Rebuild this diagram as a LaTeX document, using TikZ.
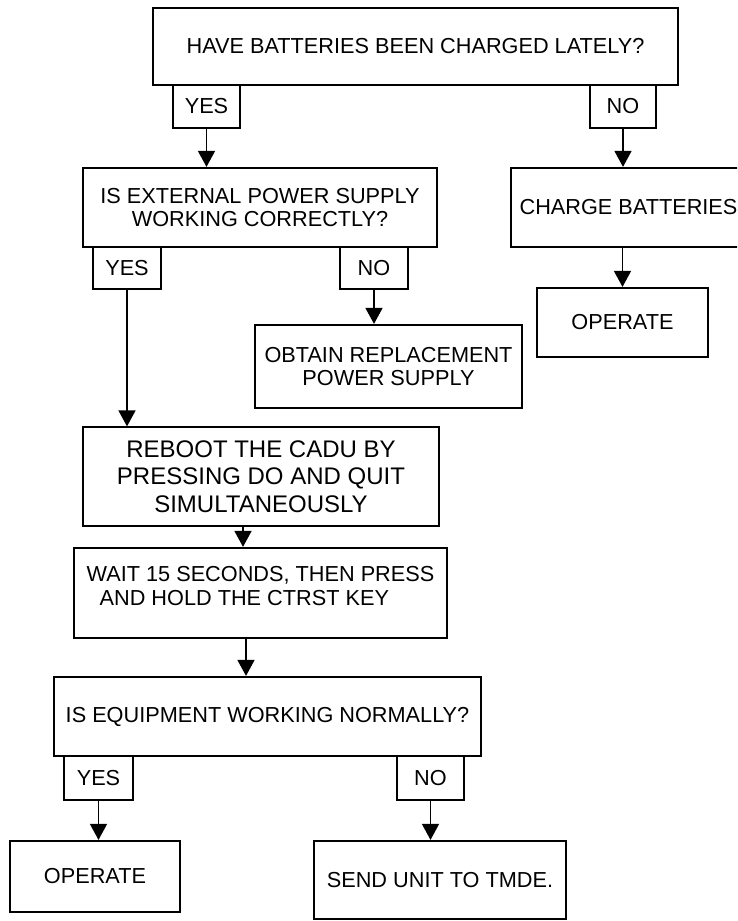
\documentclass[tikz,border=0pt]{standalone}
\usepackage{fontspec}
\setmainfont{Liberation Sans}
\usetikzlibrary{arrows.meta}

\begin{document}
\begin{tikzpicture}[
        x=1pt, y=-1pt,
        every node/.style={font=\fontsize{21.7}{23.5}\selectfont, inner sep=0pt, align=center},
        box/.style 2 args={draw=black, line width=2.2pt, minimum width=#1pt, minimum height=#2pt},
        tab/.style 2 args={draw=black, line width=1.9pt, minimum width=#1pt, minimum height=#2pt},
        arr/.style={line width=1.5pt, -{Triangle[length=16pt, width=17pt]}}
    ]
        \useasboundingbox (0,0) rectangle (737,921);
        \clip (0,0) rectangle (737,921);

        \node[box={525}{77}] (q1) at (415.5,46.5) {HAVE BATTERIES BEEN CHARGED LATELY?};
        \node[tab={67}{43}] (yes1) at (206.5,106.5) {YES};
        \node[tab={66}{43}] (no1)  at (623,106.5) {NO};

        \node[box={354}{79}] (q2) at (260,207.5) {IS EXTERNAL POWER SUPPLY\\WORKING CORRECTLY?};
        \node[tab={68}{42}] (yes2) at (127,268) {YES};
        \node[tab={68}{42}] (no2)  at (374,268) {NO};

        \node[box={235}{79}] (charge) at (628.5,207.5) {CHARGE BATTERIES};
        \node[box={171}{69}] (operA)  at (622.5,322.5) {OPERATE};
        \node[box={267}{83}] (obtain) at (388.5,366.5) {OBTAIN REPLACEMENT\\POWER SUPPLY};

        \node[draw=black, line width=1.2pt, minimum width=356pt, minimum height=99pt,
              font=\fontsize{24}{27.6}\selectfont] (reboot) at (261,476.5)
              {REBOOT THE CADU BY\\PRESSING DO AND QUIT\\SIMULTANEOUSLY};
        \node[box={373}{90}, align=left, text depth=14pt] (wait) at (260.5,593)
              {WAIT 15 SECONDS, THEN PRESS\\\hspace*{13pt}AND HOLD THE CTRST KEY};

        \node[box={427}{79}] (q3) at (267.5,716.5) {IS EQUIPMENT WORKING NORMALLY?};
        \node[tab={69}{44}] (yes3) at (98.5,778) {YES};
        \node[tab={67}{44}] (no3)  at (430.5,778) {NO};

        \node[box={170}{71}] (operB) at (95,876.5) {OPERATE};
        \node[box={252}{78}] (send)  at (440,880) {SEND UNIT TO TMDE.};

        \draw[arr] (yes1.south) -- (yes1.south |- q2.north);
        \draw[arr] (no1.south) -- (no1.south |- charge.north);
        \draw[arr] (operA.north |- charge.south) -- (operA.north);
        \draw[arr] (no2.south) -- (no2.south |- obtain.north);
        \draw[arr] (yes2.south) -- (yes2.south |- reboot.north);
        \draw[arr] ([xshift=-18pt]reboot.south) -- ([xshift=-18pt]reboot.south |- wait.north);
        \draw[arr] ([xshift=-14.5pt]wait.south) -- ([xshift=-14.5pt]wait.south |- q3.north);
        \draw[arr] (yes3.south) -- (yes3.south |- operB.north);
        \draw[arr] (no3.south) -- (no3.south |- send.north);
    \end{tikzpicture}
\end{document}
